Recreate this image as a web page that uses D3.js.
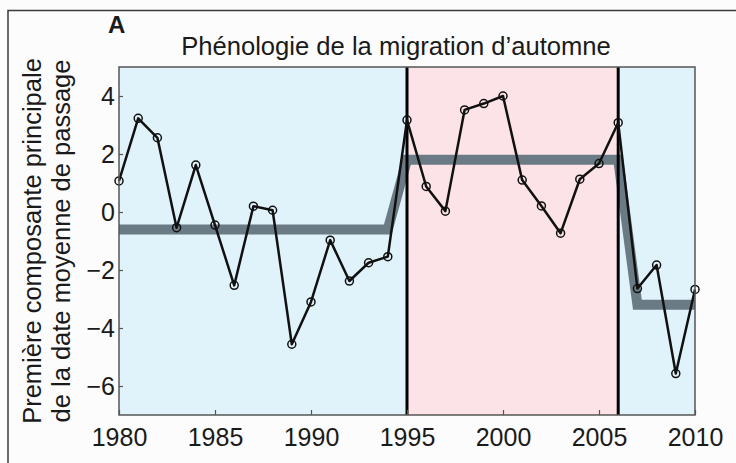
<!DOCTYPE html>
<html>
<head>
<meta charset="utf-8">
<script src="https://cdn.jsdelivr.net/npm/d3@7"></script>
<style>
  html, body { margin: 0; padding: 0; background: #fcfcfc; }
  svg { display: block; }
  text { font-family: "Liberation Sans", Arial, sans-serif; fill: #1a1a1a; }
</style>
</head>
<body>
<svg id="chart" width="736" height="463"></svg>
<script>
// ---- data ----
const years = d3.range(1980, 2011);
const values = [1.07, 3.23, 2.56, -0.54, 1.62, -0.45, -2.53, 0.20, 0.06, -4.56,
                -3.10, -0.97, -2.38, -1.75, -1.54, 3.17, 0.88, 0.03, 3.52, 3.74,
                4.00, 1.10, 0.21, -0.73, 1.13, 1.67, 3.08, -2.64, -1.83, -5.57, -2.67];
const stepYears = [1980, 1994, 1995, 2006, 2007, 2010];
const stepValues = [-0.6, -0.6, 1.8, 1.8, -3.2, -3.2];
const periodStarts = [1980, 1995, 2006];
const periodEnds = [1995, 2006, 2010];
const periodKinds = ["cool", "warm", "cool"];
const breakYears = [1995, 2006];
const xTicks = [1980, 1985, 1990, 1995, 2000, 2005, 2010];
const yTicks = [-6, -4, -2, 0, 2, 4];
const titleText = "Phénologie de la migration d\u2019automne";
const yLabelLines = ["Première composante principale", "de la date moyenne de passage"];
const panelLabel = "A";

// ---- layout ----
const svg = d3.select("#chart");
const pL = 119, pR = 695, pT = 67, pB = 415;
const x = d3.scaleLinear().domain([1980, 2010]).range([pL, pR]);
const y = d3.scaleLinear().domain([-7, 5]).range([pB, pT]);
const periodColor = { cool: "#e0f2fa", warm: "#fce3e7" };

// outer frame (top & left edges visible)
svg.append("path")
  .attr("d", "M8,463 L8,10.5 L736,10.5")
  .attr("fill", "none").attr("stroke", "#3a3a3a").attr("stroke-width", 1.5);

// period backgrounds
svg.append("g").selectAll("rect")
  .data(periodStarts.map((s, i) => ({ s, e: periodEnds[i], k: periodKinds[i] })))
  .join("rect")
  .attr("x", d => x(d.s)).attr("width", d => x(d.e) - x(d.s))
  .attr("y", pT).attr("height", pB - pT)
  .attr("fill", d => periodColor[d.k]);

// step (mean) line
svg.append("path")
  .datum(stepYears.map((yr, i) => [yr, stepValues[i]]))
  .attr("fill", "none").attr("stroke", "#6b7b85").attr("stroke-width", 10)
  .attr("stroke-linejoin", "miter")
  .attr("d", d3.line().x(d => x(d[0])).y(d => y(d[1])));

// break lines
svg.append("g").selectAll("line").data(breakYears).join("line")
  .attr("x1", d => x(d)).attr("x2", d => x(d))
  .attr("y1", pT).attr("y2", pB)
  .attr("stroke", "#000").attr("stroke-width", 3);

// data line
const pts = years.map((yr, i) => [yr, values[i]]);
svg.append("path").datum(pts)
  .attr("fill", "none").attr("stroke", "#111").attr("stroke-width", 2.5)
  .attr("stroke-linejoin", "round")
  .attr("d", d3.line().x(d => x(d[0])).y(d => y(d[1])));

svg.append("g").selectAll("circle").data(pts).join("circle")
  .attr("cx", d => x(d[0])).attr("cy", d => y(d[1])).attr("r", 4)
  .attr("fill", "none").attr("stroke", "#111").attr("stroke-width", 1.5);

// axes (ticks inward)
const xAxis = d3.axisBottom(x).tickValues(xTicks).tickFormat(d3.format("d"))
  .tickSizeInner(-5).tickSizeOuter(0).tickPadding(13);
const gx = svg.append("g").attr("transform", `translate(0,${pB})`).call(xAxis);
gx.select(".domain").remove();
gx.selectAll(".tick line").attr("stroke", "#555").attr("stroke-width", 1.2);
gx.selectAll("text").attr("font-size", 25).attr("fill", "#1a1a1a")
  .attr("font-family", "Liberation Sans, Arial, sans-serif");

const yAxis = d3.axisLeft(y).tickValues(yTicks).tickFormat(d3.format("d"))
  .tickSizeInner(-4).tickSizeOuter(0).tickPadding(4);
const gy = svg.append("g").attr("transform", `translate(${pL},0)`).call(yAxis);
gy.select(".domain").remove();
gy.selectAll(".tick line").attr("stroke", "#555").attr("stroke-width", 1.2);
gy.selectAll("text").attr("font-size", 25).attr("fill", "#1a1a1a")
  .attr("font-family", "Liberation Sans, Arial, sans-serif");

// plot frame
svg.append("rect")
  .attr("x", pL).attr("y", pT).attr("width", pR - pL).attr("height", pB - pT)
  .attr("fill", "none").attr("stroke", "#555").attr("stroke-width", 1.5);

// title & labels
svg.append("text").attr("x", 396).attr("y", 55).attr("text-anchor", "middle")
  .attr("font-size", 25.6).text(titleText);
svg.append("text").attr("x", 108).attr("y", 33).attr("font-size", 24)
  .attr("font-weight", "bold").text(panelLabel);

const cy = (pT + pB) / 2;
yLabelLines.forEach((t, i) => {
  svg.append("text")
    .attr("transform", `translate(${41 + i * 29},${cy}) rotate(-90)`)
    .attr("text-anchor", "middle").attr("font-size", 25.5).text(t);
});
</script>
</body>
</html>
